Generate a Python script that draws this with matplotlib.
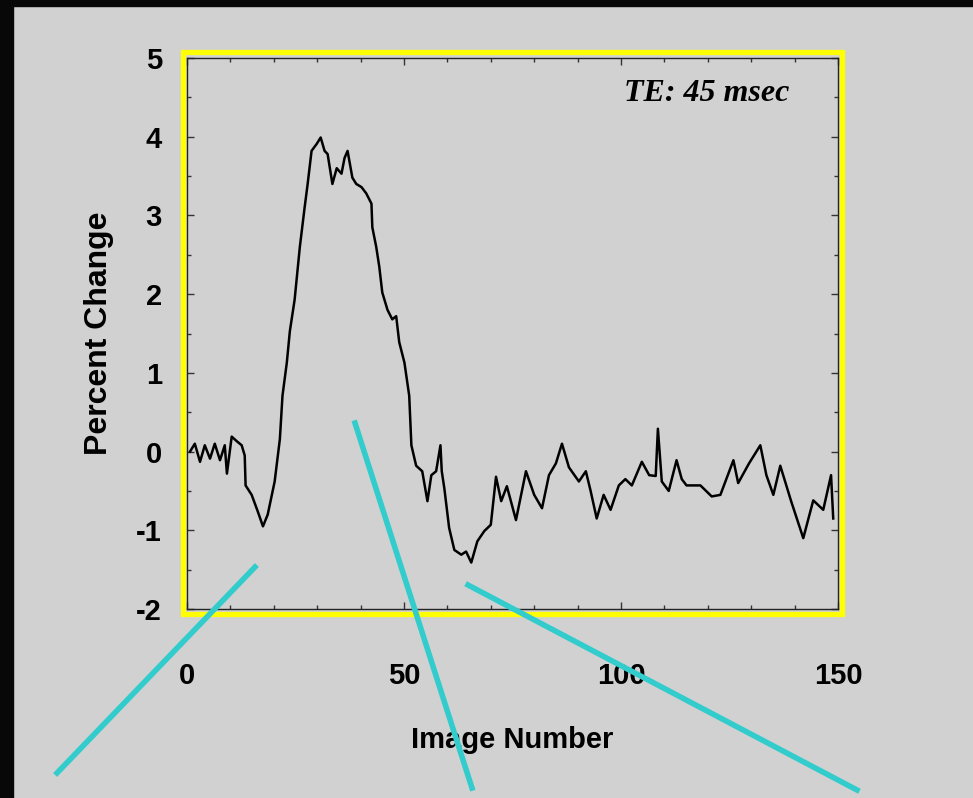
import matplotlib.pyplot as plt
from matplotlib.lines import Line2D
from matplotlib.patches import Rectangle
from matplotlib.ticker import MultipleLocator

plt.rcParams['axes.unicode_minus'] = False

# --- DONNEES ---
image_number = [
    0.7, 1.8, 3.0, 4.1, 5.3, 6.4, 7.6, 8.7, 9.2, 10.3, 11.5, 12.6, 13.3, 13.5,
    14.9, 16.3, 17.5, 18.6, 20.2, 21.4, 22.0, 23.0, 23.7, 24.8, 26.0, 27.1,
    27.8, 28.7, 29.9, 30.8, 31.7, 32.4, 33.5, 34.5, 35.6, 36.3, 37.0, 38.1,
    39.0, 40.2, 41.3, 42.5, 42.7, 43.6, 44.3, 45.0, 46.2, 47.3, 48.2, 48.9,
    50.1, 51.2, 51.7, 52.8, 54.2, 55.4, 56.3, 57.4, 58.4, 58.7, 59.3, 60.4,
    61.6, 63.2, 64.3, 65.5, 66.9, 68.5, 70.0, 71.2, 72.4, 73.7, 75.8, 78.1,
    80.0, 81.8, 83.4, 85.0, 86.4, 88.0, 90.3, 91.9, 93.0, 94.4, 96.0, 97.6,
    99.5, 101.0, 102.5, 104.8, 106.5, 108.0, 108.5, 109.4, 111.0, 112.8,
    114.0, 115.1, 118.3, 120.9, 122.9, 125.9, 127.0, 129.5, 132.1, 133.5,
    135.1, 136.7, 139.2, 142.0, 144.3, 146.6, 148.4, 148.9,
]
percent_change = [
    0.00, 0.10, -0.13, 0.08, -0.09, 0.10, -0.11, 0.08, -0.28, 0.19, 0.13, 0.08, -0.05, -0.43,
    -0.55, -0.76, -0.95, -0.80, -0.38, 0.16, 0.71, 1.13, 1.53, 1.93, 2.60, 3.10,
    3.40, 3.82, 3.91, 3.99, 3.82, 3.78, 3.40, 3.60, 3.53, 3.73, 3.82, 3.48,
    3.40, 3.36, 3.28, 3.15, 2.85, 2.60, 2.35, 2.02, 1.80, 1.68, 1.72, 1.39,
    1.13, 0.71, 0.08, -0.18, -0.25, -0.63, -0.30, -0.25, 0.08, -0.25, -0.47, -0.97,
    -1.25, -1.31, -1.27, -1.41, -1.14, -1.01, -0.93, -0.32, -0.63, -0.44, -0.87, -0.25,
    -0.55, -0.72, -0.30, -0.15, 0.10, -0.20, -0.38, -0.25, -0.50, -0.85, -0.55, -0.74,
    -0.43, -0.35, -0.43, -0.13, -0.30, -0.31, 0.29, -0.38, -0.50, -0.11,
    -0.35, -0.43, -0.43, -0.57, -0.55, -0.11, -0.40, -0.15, 0.08, -0.30,
    -0.55, -0.18, -0.63, -1.10, -0.62, -0.74, -0.30, -0.85,
]
x_ticks = [0, 50, 100, 150]
y_ticks = [-2, -1, 0, 1, 2, 3, 4, 5]

# annotations (coordonnees pixels de l'image 973x798)
cyan_lines = [((255, 567), (57, 773)), ((355, 423), (472, 788)), ((468, 585), (857, 790))]

W, H = 973, 798
BG = "#d1d1d1"
SANS = ["Liberation Sans Narrow", "Liberation Sans"]

fig = plt.figure(figsize=(W / 100, H / 100), dpi=100, facecolor=BG)

# bandes noires (haut et gauche)
fig.patches.append(Rectangle((0, 0), 13 / W, 1, transform=fig.transFigure, color="#080808", zorder=0))
fig.patches.append(Rectangle((0, 1 - 6 / H), 1, 6 / H, transform=fig.transFigure, color="#080808", zorder=0))

ax = fig.add_axes([187 / W, 1 - 609 / H, 651 / W, 551 / H])
ax.set_facecolor(BG)
ax.plot(image_number, percent_change, color="black", linewidth=1.8)
ax.set_xlim(0, 150)
ax.set_ylim(-2, 5)
ax.set_xticks(x_ticks)
ax.set_yticks(y_ticks)
ax.xaxis.set_minor_locator(MultipleLocator(10))
ax.yaxis.set_minor_locator(MultipleLocator(0.5))
ax.tick_params(which="both", direction="in", top=True, right=True, color="#333333", width=1)
ax.tick_params(which="major", length=5)
ax.tick_params(which="minor", length=3)
ax.tick_params(axis="x", pad=38)
ax.tick_params(axis="y", pad=18)
for lab in ax.get_xticklabels() + ax.get_yticklabels():
    lab.set_fontfamily(SANS)
    lab.set_fontweight("bold")
    lab.set_fontsize(21)
for sp in ax.spines.values():
    sp.set_color("#222222")
    sp.set_linewidth(1)

ax.set_xlabel("Image Number", fontsize=21, family=SANS, fontweight="bold", labelpad=26)
ax.set_ylabel("Percent Change", fontsize=23, family=SANS, fontweight="bold", labelpad=16)

ax.text(0.925, 0.935, "TE: 45 msec", transform=ax.transAxes, ha="right", va="center",
        fontsize=23, family="Liberation Serif", style="italic", fontweight="bold")

# cadre jaune
fig.patches.append(Rectangle((183 / W, 1 - 614 / H), 659 / W, 562 / H, transform=fig.transFigure,
                             fill=False, edgecolor="#ffff00", linewidth=3.8, zorder=5))

# traits cyan
for (x0, y0), (x1, y1) in cyan_lines:
    fig.lines.append(Line2D([x0 / W, x1 / W], [1 - y0 / H, 1 - y1 / H], transform=fig.transFigure,
                            color="#33cccc", linewidth=4, zorder=6))

fig.savefig("out.png", dpi=100, facecolor=BG)
